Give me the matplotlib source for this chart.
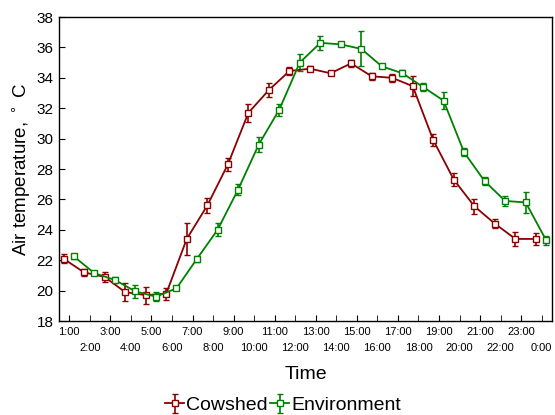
import numpy as np
import matplotlib
matplotlib.use('Agg')
import matplotlib.pyplot as plt

plt.rcParams['font.family'] = ['Liberation Sans', 'DejaVu Sans']

# data
hours = ['1:00', '2:00', '3:00', '4:00', '5:00', '6:00', '7:00', '8:00',
         '9:00', '10:00', '11:00', '12:00', '13:00', '14:00', '15:00', '16:00',
         '17:00', '18:00', '19:00', '20:00', '21:00', '22:00', '23:00', '0:00']

cowshed = [22.1, 21.2, 20.9, 19.9, 19.7, 19.8, 23.4, 25.6,
           28.3, 31.7, 33.2, 34.45, 34.6, 34.3, 34.95, 34.1,
           34.0, 33.45, 29.9, 27.3, 25.55, 24.4, 23.4, 23.4]
cowshed_err = [0.3, 0.25, 0.35, 0.6, 0.55, 0.4, 1.05, 0.47,
               0.45, 0.6, 0.44, 0.25, 0.15, 0.12, 0.22, 0.22,
               0.28, 0.66, 0.4, 0.42, 0.5, 0.3, 0.46, 0.4]

environment = [22.25, 21.15, 20.7, 19.95, 19.6, 20.15, 22.1, 24.0,
               26.65, 29.6, 31.9, 35.0, 36.3, 36.2, 35.9, 34.75,
               34.3, 33.4, 32.5, 29.1, 27.2, 25.9, 25.8, 23.3]
environment_err = [0.15, 0.1, 0.2, 0.45, 0.3, 0.1, 0.2, 0.44,
                   0.39, 0.5, 0.4, 0.58, 0.44, 0.1, 1.15, 0.08,
                   0.2, 0.25, 0.57, 0.25, 0.25, 0.35, 0.72, 0.3]

x = np.arange(1, len(hours) + 1)

fig = plt.figure(figsize=(5.55, 4.15), dpi=100)
ax = fig.add_axes([0.1063, 0.2265, 0.8883, 0.7325])

red = '#8b0000'
green = '#008000'

ax.errorbar(x - 0.28, cowshed, yerr=cowshed_err, color=red, marker='s',
            markersize=4.2, markerfacecolor='white', markeredgecolor=red,
            markeredgewidth=1.0, linewidth=1.3, elinewidth=1.2, capsize=2,
            capthick=1.2, label='Cowshed')
ax.errorbar(x + 0.22, environment, yerr=environment_err, color=green, marker='s',
            markersize=4.2, markerfacecolor='white', markeredgecolor=green,
            markeredgewidth=1.0, linewidth=1.3, elinewidth=1.2, capsize=2,
            capthick=1.2, label='Environment')

ax.set_xlim(0.5, 24.5)
ax.set_ylim(18, 38)
ax.set_yticks(np.arange(18, 39, 2))

# odd hours on the first row, even hours on the second row
ax.set_xticks(x[::2])
ax.set_xticklabels(hours[::2])
ax.set_xticks(x[1::2], minor=True)
ax.set_xticklabels(hours[1::2], minor=True)
ax.tick_params(axis='x', which='major', direction='in', length=4, pad=4, labelsize=8)
ax.tick_params(axis='x', which='minor', direction='in', length=4, pad=16, labelsize=8)
ax.tick_params(axis='y', direction='in', length=4, pad=4, labelsize=11)

for s in ax.spines.values():
    s.set_linewidth(1.0)

ax.set_ylabel('Air temperature, $^\\circ$ C', fontsize=13.5, labelpad=3)
ax.set_xlabel('Time', fontsize=14, labelpad=9)

fig.legend(loc='lower center', bbox_to_anchor=(0.51, -0.04), ncol=2, frameon=False,
           fontsize=14, handlelength=1.0, handletextpad=0.1, columnspacing=0.1)

fig.savefig('out.png', dpi=100)
